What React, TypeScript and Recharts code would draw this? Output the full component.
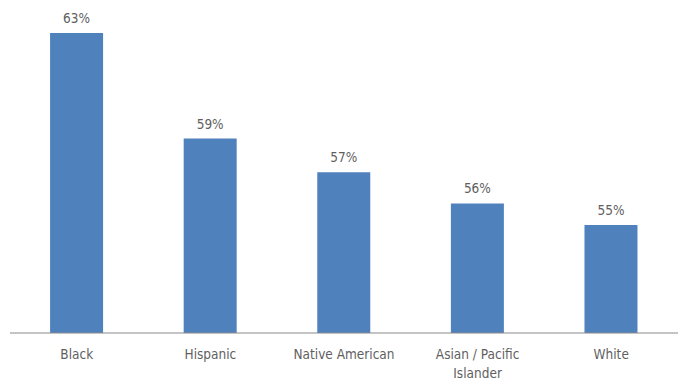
import { BarChart, Bar, XAxis, YAxis, LabelList } from "recharts";

const groups = ["Black", "Hispanic", "Native American", "Asian / Pacific Islander", "White"];
// wrapped lines for the axis
const tickLines: Record<string, string[]> = {
  "Asian / Pacific Islander": ["Asian / Pacific", "Islander"],
};
const shares = [63.0, 58.6, 57.2, 55.9, 55.0];

const data = groups.map((g, i) => ({ group: g, share: shares[i] }));

const FONT = "'DejaVu Sans Condensed', 'Liberation Sans Narrow', 'Liberation Sans', sans-serif";
const TEXT = "#5f5f5f";

function GroupTick(props: any) {
  const { x, y, payload } = props;
  const lines = tickLines[payload.value] ?? [payload.value];
  return (
    <text x={x} y={y} textAnchor="middle" fill={TEXT} fontFamily={FONT} fontSize={13.5}>
      {lines.map((l, i) => (
        <tspan key={i} x={x} dy={i === 0 ? 18 : 19}>
          {l}
        </tspan>
      ))}
    </text>
  );
}

export default function App() {
  return (
    <div style={{ position: "absolute", left: 0, top: 0, background: "#fff" }}>
      <BarChart
        width={687}
        height={385}
        data={data}
        margin={{ top: 33, right: 9, bottom: 0, left: 10 }}
        barCategoryGap="30%"
      >
        <XAxis
          dataKey="group"
          height={52}
          axisLine={{ stroke: "#898989", strokeWidth: 1 }}
          tickLine={false}
          interval={0}
          tick={<GroupTick />}
        />
        <YAxis hide domain={[50.5, 63]} allowDataOverflow />
        <Bar dataKey="share" fill="#4f81bd" isAnimationActive={false}>
          <LabelList
            dataKey="share"
            position="top"
            offset={10}
            formatter={(v: any) => `${Math.round(Number(v))}%`}
            style={{ fill: TEXT, fontFamily: FONT, fontSize: 13.5 }}
          />
        </Bar>
      </BarChart>
    </div>
  );
}
